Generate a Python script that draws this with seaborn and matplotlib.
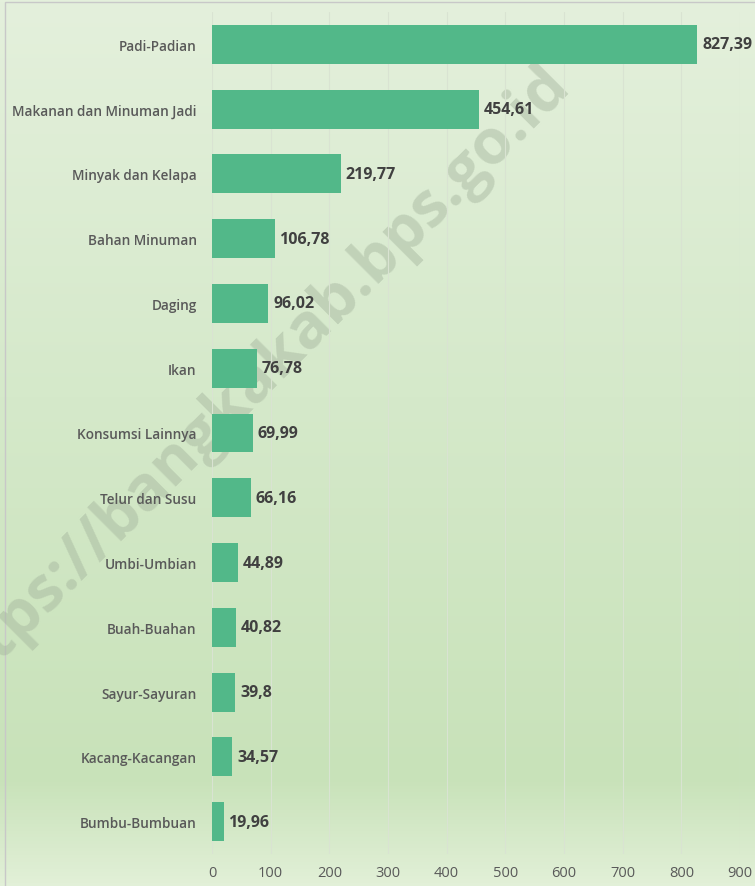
import numpy as np
import pandas as pd
import matplotlib
matplotlib.use("Agg")
import matplotlib.pyplot as plt
import seaborn as sns
from matplotlib.colors import LinearSegmentedColormap
from matplotlib.patches import Rectangle

categories = ["Padi-Padian", "Makanan dan Minuman Jadi", "Minyak dan Kelapa",
              "Bahan Minuman", "Daging", "Ikan", "Konsumsi Lainnya",
              "Telur dan Susu", "Umbi-Umbian", "Buah-Buahan", "Sayur-Sayuran",
              "Kacang-Kacangan", "Bumbu-Bumbuan"]
values = [827.39, 454.61, 219.77, 106.78, 96.02, 76.78, 69.99,
          66.16, 44.89, 40.82, 39.8, 34.57, 19.96]
value_labels = ["827,39", "454,61", "219,77", "106,78", "96,02", "76,78", "69,99",
                "66,16", "44,89", "40,82", "39,8", "34,57", "19,96"]
x_ticks = [0, 100, 200, 300, 400, 500, 600, 700, 800, 900]

df = pd.DataFrame({"kategori": categories, "nilai": values})

sns.set_style("white")
plt.rcParams["font.family"] = ["Open Sans", "DejaVu Sans"]

fig = plt.figure(figsize=(7.55, 8.87), dpi=100)

# background gradient
bg = fig.add_axes([0, 0, 1, 1], zorder=0)
grad_cmap = LinearSegmentedColormap.from_list(
    "bg", [(0.0, "#e4f0dc"), (0.45, "#d5e9ca"), (0.88, "#c8e2b9"), (1.0, "#e2f0d8")])
bg.imshow(np.linspace(0, 1, 256).reshape(-1, 1), aspect="auto", cmap=grad_cmap,
          extent=[0, 1, 0, 1], origin="upper")
bg.add_patch(Rectangle((5 / 755, -0.1), 1.2, 1 - 3 / 887 + 0.1, fill=False,
                       edgecolor="#c8c8c8", linewidth=1.0, transform=bg.transAxes))
bg.set_xlim(0, 1)
bg.set_ylim(0, 1)
bg.axis("off")

# watermark
bg.text(0.33, 0.565, "https://bangkakab.bps.go.id", transform=bg.transAxes,
        rotation=45, fontsize=45, fontweight="bold", color="#a3b39c", alpha=0.45,
        ha="center", va="center")

ax = fig.add_axes([212 / 755, 1 - 855 / 887, 528 / 755, 842 / 887], zorder=1)
ax.patch.set_alpha(0)

sns.barplot(data=df, x="nilai", y="kategori", color="#52b889", saturation=1,
            width=0.6, linewidth=0, ax=ax)

for i, (v, lab) in enumerate(zip(values, value_labels)):
    ax.text(v + 8, i, lab, va="center", ha="left", fontsize=11.5,
            fontweight="bold", color="#404040")

ax.set_xlim(0, 900)
ax.set_xticks(x_ticks)
ax.set_xticklabels([str(t) for t in x_ticks], fontsize=10.5, color="#595959")
ax.tick_params(axis="y", labelsize=9.85, labelcolor="#595959", length=0, pad=11)
ax.tick_params(axis="x", length=0, pad=8)
for lbl in ax.get_yticklabels():
    lbl.set_fontweight("semibold")
ax.set_xlabel("")
ax.set_ylabel("")
ax.xaxis.grid(True, color="#d9e3d2", linewidth=0.8)
ax.set_axisbelow(True)
for s in ax.spines.values():
    s.set_visible(False)

fig.savefig("out.png", dpi=100)
